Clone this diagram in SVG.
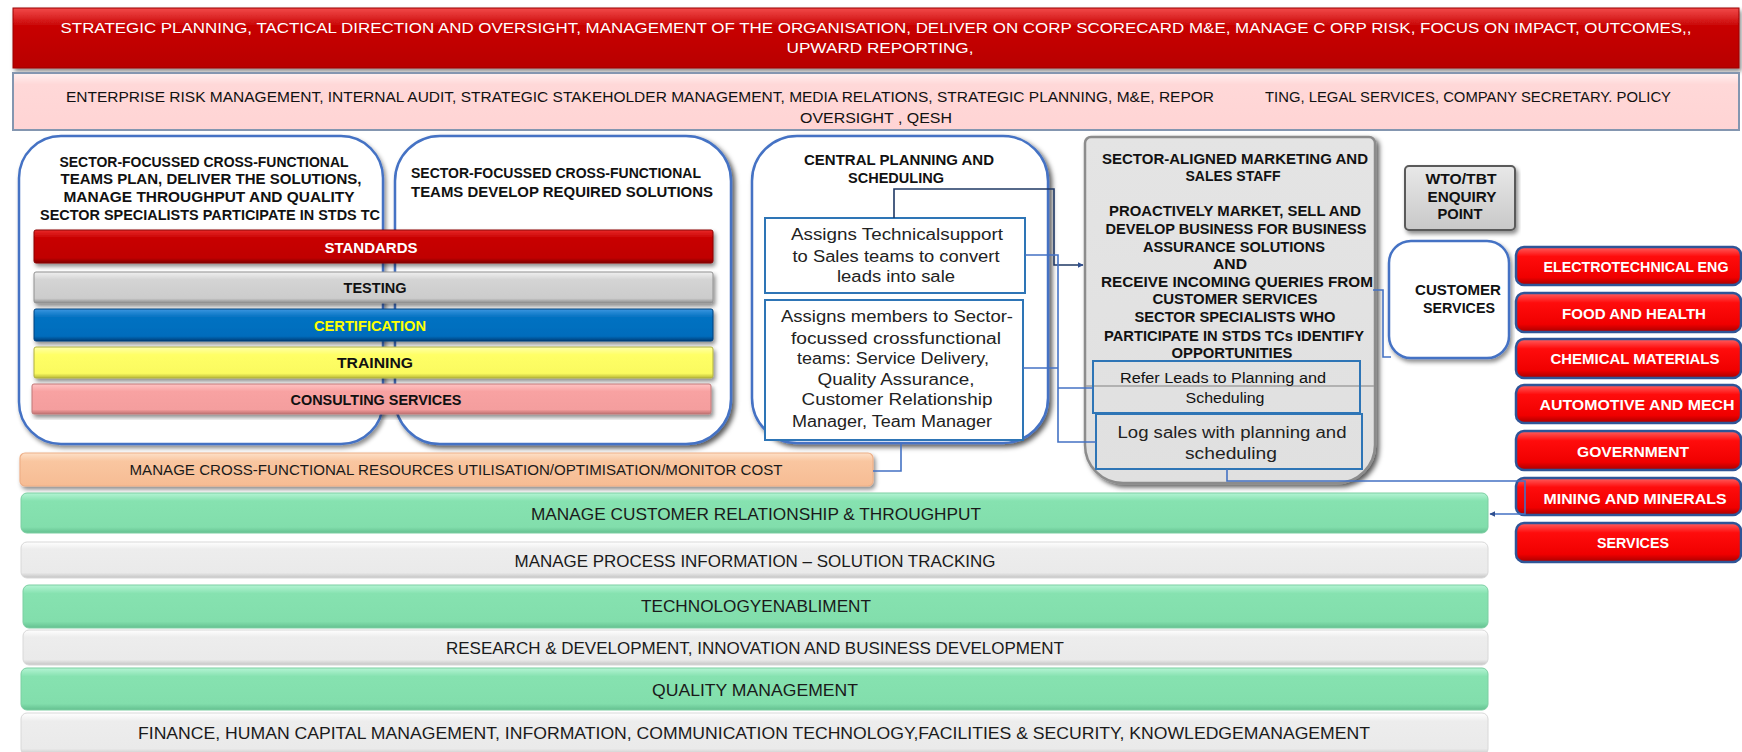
<svg xmlns="http://www.w3.org/2000/svg" width="1742" height="752" viewBox="0 0 1742 752">
<defs>
<linearGradient id="gTop" x1="0" y1="0" x2="0" y2="1"><stop offset="0" stop-color="#f24a4a"/><stop offset="0.3" stop-color="#c80404"/><stop offset="1" stop-color="#b80000"/></linearGradient>
<linearGradient id="gPink" x1="0" y1="0" x2="0" y2="1"><stop offset="0" stop-color="#fff0f0"/><stop offset="0.2" stop-color="#ffd8d8"/><stop offset="1" stop-color="#ffd4d4"/></linearGradient>
<linearGradient id="gStd" x1="0" y1="0" x2="0" y2="1"><stop offset="0" stop-color="#e82a2a"/><stop offset="0.25" stop-color="#c80000"/><stop offset="0.85" stop-color="#c00000"/><stop offset="1" stop-color="#800000"/></linearGradient>
<linearGradient id="gTest" x1="0" y1="0" x2="0" y2="1"><stop offset="0" stop-color="#f0f0f0"/><stop offset="0.25" stop-color="#d4d4d4"/><stop offset="0.85" stop-color="#cccccc"/><stop offset="1" stop-color="#8c8c8c"/></linearGradient>
<linearGradient id="gCert" x1="0" y1="0" x2="0" y2="1"><stop offset="0" stop-color="#3a96e0"/><stop offset="0.25" stop-color="#0672c2"/><stop offset="0.85" stop-color="#006cbc"/><stop offset="1" stop-color="#003e78"/></linearGradient>
<linearGradient id="gTrain" x1="0" y1="0" x2="0" y2="1"><stop offset="0" stop-color="#ffffa8"/><stop offset="0.25" stop-color="#ffff66"/><stop offset="0.85" stop-color="#fafa60"/><stop offset="1" stop-color="#b8b838"/></linearGradient>
<linearGradient id="gCons" x1="0" y1="0" x2="0" y2="1"><stop offset="0" stop-color="#ffc4c4"/><stop offset="0.25" stop-color="#f8a2a2"/><stop offset="0.85" stop-color="#f49e9e"/><stop offset="1" stop-color="#c07070"/></linearGradient>
<linearGradient id="gOrange" x1="0" y1="0" x2="0" y2="1"><stop offset="0" stop-color="#fde0c8"/><stop offset="0.25" stop-color="#f9c6a0"/><stop offset="1" stop-color="#f6bc94"/></linearGradient>
<linearGradient id="gGreen" x1="0" y1="0" x2="0" y2="1"><stop offset="0" stop-color="#b4f4d4"/><stop offset="0.2" stop-color="#86e2b0"/><stop offset="0.85" stop-color="#82deac"/><stop offset="1" stop-color="#64c090"/></linearGradient>
<linearGradient id="gGray" x1="0" y1="0" x2="0" y2="1"><stop offset="0" stop-color="#ffffff"/><stop offset="0.2" stop-color="#ededed"/><stop offset="0.85" stop-color="#eaeaea"/><stop offset="1" stop-color="#c4c4c4"/></linearGradient>
<linearGradient id="gSector" x1="0" y1="0" x2="0" y2="1"><stop offset="0" stop-color="#e4e4e4"/><stop offset="1" stop-color="#e0e0e0"/></linearGradient>
<linearGradient id="gWto" x1="0" y1="0" x2="0" y2="1"><stop offset="0" stop-color="#e8e8e8"/><stop offset="1" stop-color="#c8c8c8"/></linearGradient>
<linearGradient id="gRed" x1="0" y1="0" x2="0" y2="1"><stop offset="0" stop-color="#ff6060"/><stop offset="0.25" stop-color="#ff0c0c"/><stop offset="0.8" stop-color="#f00000"/><stop offset="1" stop-color="#a80000"/></linearGradient>
<filter id="sh" x="-5%" y="-10%" width="110%" height="130%"><feDropShadow dx="2" dy="3" stdDeviation="2" flood-color="#000" flood-opacity="0.45"/></filter>
<filter id="sh2" x="-5%" y="-5%" width="115%" height="115%"><feDropShadow dx="3" dy="3" stdDeviation="2.5" flood-color="#000" flood-opacity="0.65"/></filter>
<marker id="ar" viewBox="0 0 10 10" refX="9" refY="5" markerWidth="6" markerHeight="6" markerUnits="userSpaceOnUse" orient="auto"><path d="M0 0 L10 5 L0 10 Z" fill="#2f4f8f"/></marker>
</defs>
<style>
text{font-family:"Liberation Sans",Arial,sans-serif}
.bd{font-weight:bold;font-size:14px;fill:#111}
.lb{font-weight:bold;font-size:15px;fill:#111}
.c{text-anchor:middle}
.w{fill:#fff}
.rg{font-size:14px;fill:#111}
.nm{font-size:16px;fill:#222}
.bar{font-size:17px;fill:#1a1a1a}
.rb{fill:url(#gRed);stroke:#2f5597;stroke-width:2.5}
.gb{fill:url(#gGreen);stroke:#7ccfa2;stroke-width:1}
.wb{fill:url(#gGray);stroke:#d8d8d8;stroke-width:1}
.cn{fill:none;stroke:#4472c4;stroke-width:1.6}
</style>

<g id="n-strategic">
<rect x="13" y="8" width="1726" height="60" fill="url(#gTop)" stroke="#9a0000" stroke-width="1" filter="url(#sh)"/>
<text class="c w" x="876" y="33" font-size="15" textLength="1631" lengthAdjust="spacingAndGlyphs">STRATEGIC PLANNING, TACTICAL DIRECTION AND OVERSIGHT, MANAGEMENT OF THE ORGANISATION, DELIVER ON CORP SCORECARD M&amp;E, MANAGE C ORP RISK, FOCUS ON IMPACT, OUTCOMES,,</text>
<text class="c w" x="880" y="53" font-size="15" textLength="187" lengthAdjust="spacingAndGlyphs">UPWARD REPORTING,</text>
</g>

<g id="n-enterprise">
<rect x="13" y="73" width="1726" height="57" fill="url(#gPink)" stroke="#8496b0" stroke-width="2"/>
<text x="66" y="102" font-size="15" fill="#111" textLength="1148" lengthAdjust="spacingAndGlyphs">ENTERPRISE RISK MANAGEMENT, INTERNAL AUDIT, STRATEGIC STAKEHOLDER MANAGEMENT, MEDIA RELATIONS, STRATEGIC PLANNING, M&amp;E, REPOR</text>
<text x="1265" y="102" font-size="15" fill="#111" textLength="406" lengthAdjust="spacingAndGlyphs">TING, LEGAL SERVICES, COMPANY SECRETARY. POLICY</text>
<text class="c" x="876" y="123" font-size="15" fill="#111" textLength="152" lengthAdjust="spacingAndGlyphs">OVERSIGHT ,  QESH</text>
</g>

<g id="n-teams-plan">
<rect x="19" y="136" width="364" height="308" rx="42" fill="#fff" stroke="#4472c4" stroke-width="2.5" filter="url(#sh)"/>
<text class="bd c" x="204" y="167" textLength="289" lengthAdjust="spacingAndGlyphs">SECTOR-FOCUSSED CROSS-FUNCTIONAL</text>
<text class="bd c" x="211" y="184" textLength="301" lengthAdjust="spacingAndGlyphs">TEAMS PLAN, DELIVER THE SOLUTIONS,</text>
<text class="bd c" x="209" y="202" textLength="291" lengthAdjust="spacingAndGlyphs">MANAGE THROUGHPUT AND QUALITY</text>
<text class="bd c" x="210" y="220" textLength="340" lengthAdjust="spacingAndGlyphs">SECTOR SPECIALISTS PARTICIPATE IN STDS TC</text>
</g>

<g id="n-teams-develop">
<rect x="395" y="136" width="336" height="308" rx="45" fill="#fff" stroke="#4472c4" stroke-width="2.5" filter="url(#sh2)"/>
<text class="bd" x="411" y="178" textLength="290" lengthAdjust="spacingAndGlyphs">SECTOR-FOCUSSED CROSS-FUNCTIONAL</text>
<text class="bd" x="411" y="197" textLength="302" lengthAdjust="spacingAndGlyphs">TEAMS DEVELOP REQUIRED SOLUTIONS</text>
</g>

<g id="n-standards">
<rect x="34" y="230" width="679" height="33" rx="2" fill="url(#gStd)" stroke="#8a0000" stroke-width="1" filter="url(#sh)"/>
<text class="lb c w" x="371" y="253" textLength="93" lengthAdjust="spacingAndGlyphs">STANDARDS</text>
</g>
<g id="n-testing">
<rect x="34" y="272" width="679" height="31" rx="2" fill="url(#gTest)" stroke="#909090" stroke-width="1" filter="url(#sh)"/>
<text class="lb c" x="375" y="293" textLength="63" lengthAdjust="spacingAndGlyphs">TESTING</text>
</g>
<g id="n-certification">
<rect x="34" y="309" width="679" height="32" rx="2" fill="url(#gCert)" stroke="#00407c" stroke-width="1" filter="url(#sh)"/>
<text class="lb c" x="370" y="331" style="fill:#ffff00" textLength="112" lengthAdjust="spacingAndGlyphs">CERTIFICATION</text>
</g>
<g id="n-training">
<rect x="34" y="347" width="679" height="31" rx="2" fill="url(#gTrain)" stroke="#b0b040" stroke-width="1" filter="url(#sh)"/>
<text class="lb c" x="375" y="368" textLength="76" lengthAdjust="spacingAndGlyphs">TRAINING</text>
</g>
<g id="n-consulting">
<rect x="32" y="384" width="679" height="30" rx="2" fill="url(#gCons)" stroke="#c07878" stroke-width="1" filter="url(#sh)"/>
<text class="lb c" x="376" y="405" textLength="171" lengthAdjust="spacingAndGlyphs">CONSULTING SERVICES</text>
</g>

<g id="n-resources">
<rect x="20" y="453" width="853" height="33" rx="5" fill="url(#gOrange)" stroke="#eeb088" stroke-width="1.2" filter="url(#sh)"/>
<text class="c" x="456" y="475" font-size="15" fill="#1a1a1a" textLength="653" lengthAdjust="spacingAndGlyphs">MANAGE CROSS-FUNCTIONAL RESOURCES UTILISATION/OPTIMISATION/MONITOR COST</text>
</g>

<g id="n-central">
<rect x="752" y="136" width="296" height="307" rx="45" fill="#fff" stroke="#4472c4" stroke-width="2.5" filter="url(#sh2)"/>
<text class="bd c" x="899" y="165" textLength="190" lengthAdjust="spacingAndGlyphs">CENTRAL PLANNING AND</text>
<text class="bd c" x="896" y="183" textLength="96" lengthAdjust="spacingAndGlyphs">SCHEDULING</text>
</g>

<g id="n-assigns-tech">
<rect x="765" y="218" width="260" height="75" fill="#fff" stroke="#2e75b6" stroke-width="2"/>
<text class="nm c" x="897" y="240" textLength="212" lengthAdjust="spacingAndGlyphs">Assigns Technicalsupport</text>
<text class="nm c" x="896" y="262" textLength="207" lengthAdjust="spacingAndGlyphs">to Sales teams to convert</text>
<text class="nm c" x="896" y="282" textLength="118" lengthAdjust="spacingAndGlyphs">leads into sale</text>
</g>

<g id="n-assigns-members">
<rect x="765" y="300" width="258" height="140" fill="#fff" stroke="#2e75b6" stroke-width="2"/>
<text class="nm c" x="897" y="322" textLength="232" lengthAdjust="spacingAndGlyphs">Assigns members to Sector-</text>
<text class="nm c" x="896" y="344" textLength="210" lengthAdjust="spacingAndGlyphs">focussed crossfunctional</text>
<text class="nm c" x="893" y="364" textLength="192" lengthAdjust="spacingAndGlyphs">teams: Service Delivery,</text>
<text class="nm c" x="896" y="385" textLength="157" lengthAdjust="spacingAndGlyphs">Quality Assurance,</text>
<text class="nm c" x="897" y="405" textLength="191" lengthAdjust="spacingAndGlyphs">Customer Relationship</text>
<text class="nm c" x="892" y="427" textLength="200" lengthAdjust="spacingAndGlyphs">Manager, Team Manager</text>
</g>

<g id="n-sector-sales">
<path d="M1091 137 H1369 A6 6 0 0 1 1375 143 V445 A38 38 0 0 1 1337 483 H1123 A38 38 0 0 1 1085 445 V143 A6 6 0 0 1 1091 137 Z" fill="url(#gSector)" stroke="#8c8c8c" stroke-width="2.5" filter="url(#sh2)"/>
<line x1="1086" y1="386" x2="1374" y2="386" stroke="#a0a0a0" stroke-width="1.5"/>
<text class="bd c" x="1235" y="164" textLength="266" lengthAdjust="spacingAndGlyphs">SECTOR-ALIGNED MARKETING AND</text>
<text class="bd c" x="1233" y="181" textLength="95" lengthAdjust="spacingAndGlyphs">SALES STAFF</text>
<text class="bd c" x="1235" y="216" textLength="252" lengthAdjust="spacingAndGlyphs">PROACTIVELY MARKET, SELL AND</text>
<text class="bd c" x="1236" y="234" textLength="261" lengthAdjust="spacingAndGlyphs">DEVELOP BUSINESS FOR BUSINESS</text>
<text class="bd c" x="1234" y="252" textLength="182" lengthAdjust="spacingAndGlyphs">ASSURANCE SOLUTIONS</text>
<text class="bd c" x="1230" y="269" textLength="34" lengthAdjust="spacingAndGlyphs">AND</text>
<text class="bd c" x="1237" y="287" textLength="272" lengthAdjust="spacingAndGlyphs">RECEIVE INCOMING QUERIES FROM</text>
<text class="bd c" x="1235" y="304" textLength="165" lengthAdjust="spacingAndGlyphs">CUSTOMER SERVICES</text>
<text class="bd c" x="1235" y="322" textLength="201" lengthAdjust="spacingAndGlyphs">SECTOR SPECIALISTS WHO</text>
<text class="bd c" x="1234" y="341" textLength="260" lengthAdjust="spacingAndGlyphs">PARTICIPATE IN STDS TCs IDENTIFY</text>
<text class="bd c" x="1232" y="358" textLength="121" lengthAdjust="spacingAndGlyphs">OPPORTUNITIES</text>
</g>

<g id="n-refer-leads">
<rect x="1093" y="361" width="267" height="52" fill="none" stroke="#2e75b6" stroke-width="2"/>
<text class="rg c" x="1223" y="383" textLength="206" lengthAdjust="spacingAndGlyphs">Refer Leads to Planning and</text>
<text class="rg c" x="1225" y="403" textLength="79" lengthAdjust="spacingAndGlyphs">Scheduling</text>
</g>

<g id="n-log-sales">
<rect x="1096" y="414" width="266" height="55" fill="none" stroke="#2e75b6" stroke-width="2"/>
<text class="nm c" x="1232" y="438" textLength="229" lengthAdjust="spacingAndGlyphs">Log sales with planning and</text>
<text class="nm c" x="1231" y="459" textLength="92" lengthAdjust="spacingAndGlyphs">scheduling</text>
</g>

<g id="n-wto">
<rect x="1405" y="166" width="110" height="64" rx="4" fill="url(#gWto)" stroke="#5a5a5a" stroke-width="2" filter="url(#sh)"/>
<text class="lb c" x="1461" y="184" textLength="71" lengthAdjust="spacingAndGlyphs">WTO/TBT</text>
<text class="lb c" x="1462" y="202" textLength="69" lengthAdjust="spacingAndGlyphs">ENQUIRY</text>
<text class="lb c" x="1460" y="219" textLength="45" lengthAdjust="spacingAndGlyphs">POINT</text>
</g>

<g id="n-customer-services">
<rect x="1389" y="241" width="120" height="117" rx="22" fill="#fff" stroke="#4472c4" stroke-width="2.5" filter="url(#sh)"/>
<text class="lb c" x="1458" y="295" textLength="86" lengthAdjust="spacingAndGlyphs">CUSTOMER</text>
<text class="lb c" x="1459" y="313" textLength="72" lengthAdjust="spacingAndGlyphs">SERVICES</text>
</g>

<g id="n-electro"><rect class="rb" x="1516" y="247" width="225" height="38" rx="8"/><text class="lb c w" x="1636" y="272" textLength="185" lengthAdjust="spacingAndGlyphs">ELECTROTECHNICAL ENG</text></g>
<g id="n-food"><rect class="rb" x="1516" y="293" width="225" height="39" rx="8"/><text class="lb c w" x="1634" y="319" textLength="144" lengthAdjust="spacingAndGlyphs">FOOD AND HEALTH</text></g>
<g id="n-chemical"><rect class="rb" x="1516" y="339" width="225" height="39" rx="8"/><text class="lb c w" x="1635" y="364" textLength="169" lengthAdjust="spacingAndGlyphs">CHEMICAL MATERIALS</text></g>
<g id="n-automotive"><rect class="rb" x="1516" y="385" width="225" height="38" rx="8"/><text class="lb c w" x="1637" y="410" textLength="195" lengthAdjust="spacingAndGlyphs">AUTOMOTIVE AND MECH</text></g>
<g id="n-government"><rect class="rb" x="1516" y="431" width="225" height="39" rx="8"/><text class="lb c w" x="1633" y="457" textLength="112" lengthAdjust="spacingAndGlyphs">GOVERNMENT</text></g>
<g id="n-mining"><rect class="rb" x="1516" y="478" width="225" height="37" rx="8"/><text class="lb c w" x="1635" y="504" textLength="183" lengthAdjust="spacingAndGlyphs">MINING AND MINERALS</text></g>
<g id="n-services"><rect class="rb" x="1516" y="523" width="225" height="39" rx="8"/><text class="lb c w" x="1633" y="548" textLength="72" lengthAdjust="spacingAndGlyphs">SERVICES</text></g>

<g id="n-crm"><rect class="gb" x="21" y="493" width="1467" height="40" rx="6"/><text class="bar c" x="756" y="520" textLength="450" lengthAdjust="spacingAndGlyphs">MANAGE CUSTOMER RELATIONSHIP &amp; THROUGHPUT</text></g>
<g id="n-process"><rect class="wb" x="21" y="542" width="1467" height="36" rx="6"/><text class="bar c" x="755" y="567" textLength="481" lengthAdjust="spacingAndGlyphs">MANAGE PROCESS INFORMATION – SOLUTION TRACKING</text></g>
<g id="n-technology"><rect class="gb" x="23" y="585" width="1465" height="43" rx="6"/><text class="bar c" x="756" y="612" textLength="230" lengthAdjust="spacingAndGlyphs">TECHNOLOGYENABLIMENT</text></g>
<g id="n-research"><rect class="wb" x="23" y="630" width="1465" height="35" rx="6"/><text class="bar c" x="755" y="654" textLength="618" lengthAdjust="spacingAndGlyphs">RESEARCH &amp; DEVELOPMENT, INNOVATION AND BUSINESS DEVELOPMENT</text></g>
<g id="n-quality"><rect class="gb" x="21" y="668" width="1467" height="42" rx="6"/><text class="bar c" x="755" y="696" textLength="206" lengthAdjust="spacingAndGlyphs">QUALITY MANAGEMENT</text></g>
<g id="n-finance"><rect class="wb" x="21" y="713" width="1467" height="42" rx="6"/><text class="bar c" x="754" y="739" textLength="1232" lengthAdjust="spacingAndGlyphs">FINANCE, HUMAN CAPITAL  MANAGEMENT, INFORMATION,   COMMUNICATION TECHNOLOGY,FACILITIES  &amp; SECURITY, KNOWLEDGEMANAGEMENT</text></g>

<g id="connectors">
<path d="M894 218 V189 H1054 V265 H1083" fill="none" stroke="#1f3864" stroke-width="1.6" marker-end="url(#ar)"/>
<path class="cn" d="M1025 255 H1058 V442 H1096"/>
<path class="cn" d="M1023 368 H1058"/>
<path class="cn" d="M1058 388 H1093"/>
<path class="cn" d="M901 443 V471 H873"/>
<path class="cn" d="M1373 290 H1383 V357 H1391"/>
<path class="cn" d="M1227 469 V481 H1525 V514 H1490" stroke="#3a5a9a" marker-end="url(#ar)"/>
</g>
</svg>
